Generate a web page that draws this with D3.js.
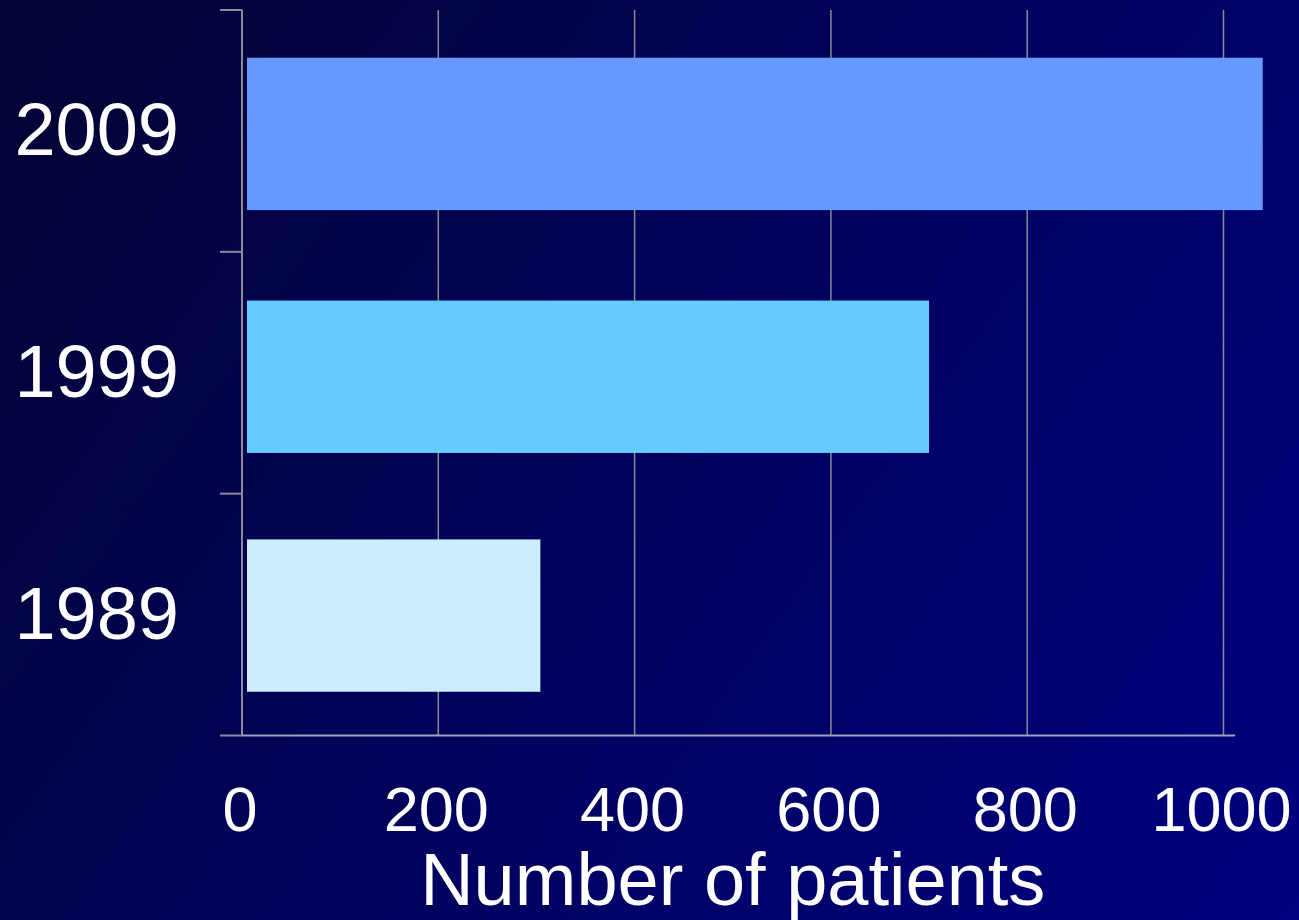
<!DOCTYPE html>
<html>
<head>
<meta charset="utf-8">
<script src="https://cdn.jsdelivr.net/npm/d3@7/dist/d3.min.js"></script>
<style>
  html, body { margin: 0; padding: 0; background: #000066; }
  svg { display: block; }
  text { font-family: "Liberation Sans", Arial, sans-serif; fill: #ffffff; }
</style>
</head>
<body>
<script>
// Patients per year
const years = ["2009", "1999", "1989"];
const patients = [1040, 700, 304];
const barColors = ["#6699FF", "#66CCFF", "#CCECFF"];
const xTicks = [0, 200, 400, 600, 800, 1000];
const xTitle = "Number of patients";

const W = 1299, H = 920;
const plot = { left: 242, right: 1223.5, top: 10, bottom: 735.5 };

const svg = d3.select("body").append("svg")
  .attr("width", W).attr("height", H);

// Diagonal background gradient
const defs = svg.append("defs");
const grad = defs.append("linearGradient")
  .attr("id", "bg")
  .attr("gradientUnits", "userSpaceOnUse")
  .attr("x1", 0).attr("y1", 0).attr("x2", W).attr("y2", H);
grad.append("stop").attr("offset", "0%").attr("stop-color", "#030333");
grad.append("stop").attr("offset", "55%").attr("stop-color", "#010160");
grad.append("stop").attr("offset", "100%").attr("stop-color", "#000080");
svg.append("rect").attr("width", W).attr("height", H).attr("fill", "url(#bg)");

const x = d3.scaleLinear().domain([0, 1000]).range([plot.left, plot.right]);
const y = d3.scaleBand().domain(years).range([plot.top, plot.bottom])
  .paddingInner(0.37).paddingOuter(0.185);

// Vertical gridlines
svg.append("g").selectAll("line")
  .data(xTicks.slice(1))
  .join("line")
  .attr("x1", d => x(d)).attr("x2", d => x(d))
  .attr("y1", plot.top).attr("y2", plot.bottom)
  .attr("stroke", "#8a8a9a").attr("stroke-width", 1.5);

// Bars, starting a little right of the value axis
svg.append("g").selectAll("rect")
  .data(years)
  .join("rect")
  .attr("x", x(0) + 5)
  .attr("y", (d, i) => y(d) + [3, 4, 1][i])
  .attr("width", (d, i) => x(patients[i]) - x(0) - 5)
  .attr("height", y.bandwidth())
  .attr("fill", (d, i) => barColors[i]);

// Category axis with outward tick marks at band boundaries
const yBoundaries = [plot.top, ...years.map(d => y(d) + y.bandwidth() + y.step() * y.paddingInner() / 2)];
yBoundaries[yBoundaries.length - 1] = plot.bottom;
const yAxis = svg.append("g");
yAxis.append("line")
  .attr("x1", plot.left).attr("x2", plot.left)
  .attr("y1", plot.top).attr("y2", plot.bottom)
  .attr("stroke", "#8a8a9a").attr("stroke-width", 2);
yAxis.selectAll("line.tick")
  .data(yBoundaries)
  .join("line").attr("class", "tick")
  .attr("x1", plot.left - 22).attr("x2", plot.left)
  .attr("y1", d => d).attr("y2", d => d)
  .attr("stroke", "#8a8a9a").attr("stroke-width", 2);

// Value axis baseline
svg.append("line")
  .attr("x1", plot.left).attr("x2", 1235)
  .attr("y1", plot.bottom).attr("y2", plot.bottom)
  .attr("stroke", "#a0a0c0").attr("stroke-width", 2);

// Category labels
svg.append("g").selectAll("text")
  .data(years)
  .join("text")
  .attr("x", 179)
  .attr("y", d => y(d) + y.bandwidth() / 2 + 24)
  .attr("text-anchor", "end")
  .attr("font-size", 74)
  .text(d => d);

// Value tick labels
svg.append("g").selectAll("text")
  .data(xTicks)
  .join("text")
  .attr("x", d => x(d) - 2)
  .attr("y", 831)
  .attr("text-anchor", "middle")
  .attr("font-size", 63)
  .text(d => d);

// Axis title
svg.append("text")
  .attr("x", (plot.left + plot.right) / 2)
  .attr("y", 905)
  .attr("text-anchor", "middle")
  .attr("font-size", 74)
  .text(xTitle);
</script>
</body>
</html>
